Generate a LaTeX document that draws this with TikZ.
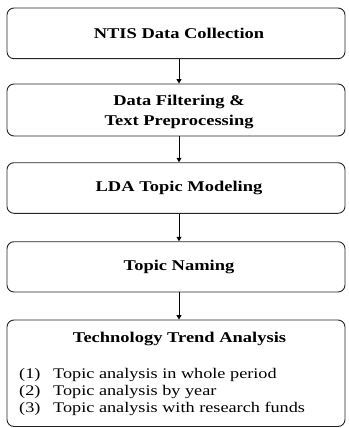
\documentclass[tikz,border=0pt]{standalone}
\usepackage{fontspec}
\setmainfont{Liberation Serif}[FakeStretch=1.24]
\usetikzlibrary{arrows.meta}
\begin{document}
\begin{tikzpicture}[x=1pt,y=-1pt,
  stage/.style={draw=black!85, line width=0.9pt, rounded corners=7pt,
    minimum width=338pt, inner sep=0pt},
  heading/.style={font=\fontsize{14.9}{19.5}\selectfont\bfseries,
    align=center, inner sep=0pt},
  item/.style={font=\fontsize{14.7}{17}\selectfont, inner sep=0pt,
    anchor=base west},
  flow/.style={draw=black, line width=0.9pt,
    -{Triangle[width=5pt,length=4.5pt]}}]
\useasboundingbox (0,0) rectangle (348,428);

% pipeline stages
\node[stage, minimum height=50.7pt] (b1) at (176,33.35) {};
\node[stage, minimum height=52pt]   (b2) at (176,110) {};
\node[stage, minimum height=50.6pt] (b3) at (176,188) {};
\node[stage, minimum height=50.3pt] (b4) at (176,266.85) {};
\node[stage, minimum height=106.5pt] (b5) at (176,373.25) {};

% stage titles
\node[heading] (t1) at (179,33.4) {NTIS Data Collection};
\node[heading] (t2) at (179,112) {Data Filtering \&\\Text Preprocessing};
\node[heading] (t3) at (179,188) {LDA Topic Modeling};
\node[heading] (t4) at (179,267) {Topic Naming};
\node[heading, anchor=base] (t5) at (179.5,342.5) {Technology Trend Analysis};

% analysis items
\node[item] (i1) at (19,378) {\makebox[34pt][l]{(1)}Topic analysis in whole period};
\node[item] (i2) at (19,395) {\makebox[34pt][l]{(2)}Topic analysis by year};
\node[item] (i3) at (19,412) {\makebox[34pt][l]{(3)}Topic analysis with research funds};

% connectors
\draw[flow] ([xshift=3pt]b1.south) -- ([xshift=3pt]b2.north);
\draw[flow] ([xshift=3pt]b2.south) -- ([xshift=3pt]b3.north);
\draw[flow] ([xshift=3pt]b3.south) -- ([xshift=3pt]b4.north);
\draw[flow] ([xshift=3pt]b4.south) -- ([xshift=3pt]b5.north);
\end{tikzpicture}
\end{document}
